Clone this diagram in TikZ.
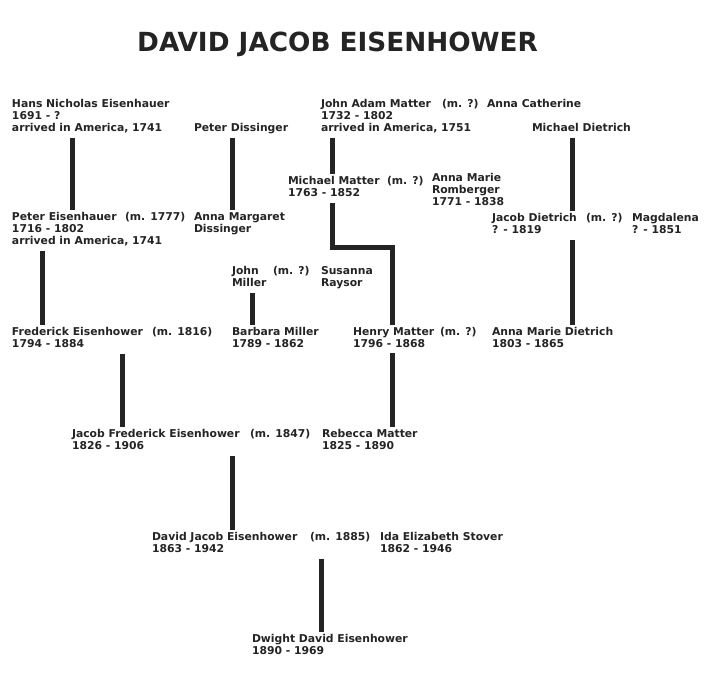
\documentclass[tikz,border=0pt]{standalone}
\usepackage{fontspec}
\setmainfont{DejaVu Sans}
\usepackage{xcolor}
\usepackage{tikz}
\colorlet{tree ink}{black!86}
\tikzset{person/.style={anchor=north west, align=left, inner sep=0pt,
        outer xsep=0pt, outer ysep=2.5pt, text=tree ink,
        font=\bfseries\fontsize{10.8}{12}\selectfont,
        execute at begin node=\strut, execute at end node=\strut},
    link/.style={draw=tree ink, line width=5pt}}

\begin{document}
\begin{tikzpicture}[x=1pt, y=-1pt]
    \fill[white] (0,0) rectangle (721,682);
    \node[anchor=base west, inner sep=0pt, text=tree ink,
          font=\bfseries\fontsize{26.3}{30}\selectfont] (title) at (137,52) {DAVID JACOB EISENHOWER};

    \node[person] (hans) at (12,97) {Hans Nicholas Eisenhauer\\1691 - ?\\arrived in America, 1741};
    \node[person] (peterd) at (194,121) {Peter Dissinger};
    \node[person] (johnadam) at (321,97) {John Adam Matter\\1732 - 1802\\arrived in America, 1751};
    \node[person] (m1) at (442,97) {(m. ?)};
    \node[person] (annacath) at (487,97) {Anna Catherine};
    \node[person] (michaeld) at (532,121) {Michael Dietrich};

    \node[person] (michaelm) at (288,174) {Michael Matter\\1763 - 1852};
    \node[person] (m2) at (387,174) {(m. ?)};
    \node[person] (annamarie) at (432,171) {Anna Marie\\Romberger\\1771 - 1838};

    \node[person] (petere) at (12,210) {Peter Eisenhauer\\1716 - 1802\\arrived in America, 1741};
    \node[person] (m3) at (125,210) {(m. 1777)};
    \node[person] (annamarg) at (194,210) {Anna Margaret\\Dissinger};
    \node[person] (jacobd) at (492,211) {Jacob Dietrich\\? - 1819};
    \node[person] (m4) at (586,211) {(m. ?)};
    \node[person] (magdalena) at (632,211) {Magdalena\\? - 1851};

    \node[person] (johnm) at (232,264) {John\\Miller};
    \node[person] (m5) at (273,264) {(m. ?)};
    \node[person] (susanna) at (321,264) {Susanna\\Raysor};

    \node[person] (frederick) at (12,325) {Frederick Eisenhower\\1794 - 1884};
    \node[person] (m6) at (152,325) {(m. 1816)};
    \node[person] (barbara) at (232,325) {Barbara Miller\\1789 - 1862};
    \node[person] (henry) at (353,325) {Henry Matter\\1796 - 1868};
    \node[person] (m7) at (440,325) {(m. ?)};
    \node[person] (annadiet) at (492,325) {Anna Marie Dietrich\\1803 - 1865};

    \node[person] (jacobf) at (72,427) {Jacob Frederick Eisenhower\\1826 - 1906};
    \node[person] (m8) at (250,427) {(m. 1847)};
    \node[person] (rebecca) at (322,427) {Rebecca Matter\\1825 - 1890};

    \node[person] (david) at (152,530) {David Jacob Eisenhower\\1863 - 1942};
    \node[person] (m9) at (310,530) {(m. 1885)};
    \node[person] (ida) at (380,530) {Ida Elizabeth Stover\\1862 - 1946};

    \node[person] (dwight) at (252,632) {Dwight David Eisenhower\\1890 - 1969};

    % parent to child
    \draw[link] ([xshift=60pt]hans.south west) -- ([xshift=60pt]petere.north west);
    \draw[link] ([xshift=38pt]peterd.south west) -- ([xshift=38pt]annamarg.north west);
    \draw[link] ([xshift=11pt]johnadam.south west) -- ([xshift=44pt]michaelm.north west);
    \draw[link] ([xshift=40pt]michaeld.south west) -- ([xshift=80pt]jacobd.north west);
    \draw[link] ([xshift=44pt]michaelm.south west) -- ++(0,45) -| ([xshift=39pt]henry.north west);
    \draw[link] ([xshift=30pt]petere.south west) -- ([xshift=30pt]frederick.north west);
    \draw[link] ([xshift=20pt]johnm.south west) -- ([xshift=20pt]barbara.north west);
    \draw[link] ([xshift=80pt]jacobd.south west) -- ([xshift=80pt]annadiet.north west);
    \draw[link] ([xshift=110pt]frederick.south west) -- ([xshift=50pt]jacobf.north west);
    \draw[link] ([xshift=39pt]henry.south west) -- ([xshift=70pt]rebecca.north west);
    \draw[link] ([xshift=160pt]jacobf.south west) -- ([xshift=80pt]david.north west);
    \draw[link] ([xshift=169pt]david.south west) -- ([xshift=69pt]dwight.north west);
\end{tikzpicture}
\end{document}
